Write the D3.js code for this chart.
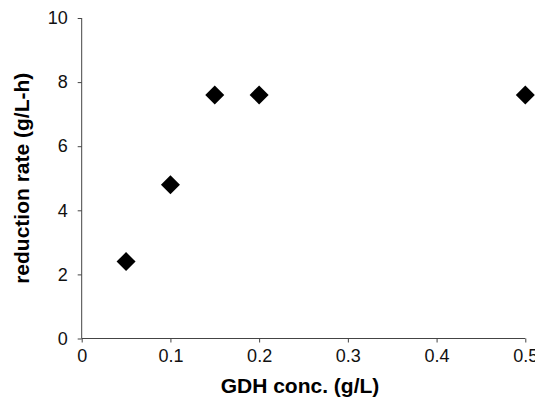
<!DOCTYPE html>
<html><head><meta charset="utf-8">
<script src="https://cdn.jsdelivr.net/npm/d3@7"></script>
<style>body{margin:0;background:#fff}</style>
</head><body>
<svg id="c" width="535" height="398"></svg>
<script>
const concentrations = [0.05, 0.1, 0.15, 0.2, 0.5];
const rates = [2.4, 4.8, 7.6, 7.6, 7.6];
const xTicks = [0, 0.1, 0.2, 0.3, 0.4, 0.5];
const yTicks = [0, 2, 4, 6, 8, 10];
const xTitle = "GDH conc. (g/L)";
const yTitle = "reduction rate (g/L-h)";

const svg = d3.select("#c");
const font = "'Liberation Sans', Arial, Helvetica, sans-serif";
const x = d3.scaleLinear().domain([0, 0.5]).range([81.7, 525.3]);
const y = d3.scaleLinear().domain([0, 10]).range([338.5, 18]);

const xAxis = svg.append("g").attr("transform", `translate(0,${y(0)})`)
  .call(d3.axisBottom(x).tickValues(xTicks).tickSize(4).tickPadding(7)
    .tickFormat(d => d === 0 ? "0" : d3.format(".1f")(d)));
const yAxis = svg.append("g").attr("transform", `translate(${x(0)},0)`)
  .call(d3.axisLeft(y).tickValues(yTicks).tickSize(4).tickPadding(10));
[xAxis, yAxis].forEach(g => {
  g.selectAll(".domain").attr("stroke", "#444").attr("d", null);
  g.selectAll("line").attr("stroke", "#444");
  g.selectAll("text").attr("font-family", font).attr("font-size", 18).attr("fill", "#111");
});
xAxis.select(".domain").attr("d", `M${x(0)},0H${x(0.5)}`);
yAxis.select(".domain").attr("d", `M0,${y(10)}V${y(0)}`);

const data = concentrations.map((c, i) => ({c, r: rates[i]}));
svg.append("g").selectAll("path").data(data).join("path")
  .attr("transform", d => `translate(${x(d.c)},${y(d.r)})`)
  .attr("d", "M0,-9.5L9.5,0L0,9.5L-9.5,0Z")
  .attr("fill", "#000");

svg.append("text").attr("x", 300).attr("y", 393).attr("text-anchor", "middle")
  .attr("font-family", font).attr("font-size", 21).attr("font-weight", "bold").text(xTitle);
svg.append("text").attr("transform", `translate(29,${(y(0)+y(10))/2}) rotate(-90)`)
  .attr("text-anchor", "middle")
  .attr("font-family", font).attr("font-size", 21).attr("font-weight", "bold").text(yTitle);
</script>
</body></html>
